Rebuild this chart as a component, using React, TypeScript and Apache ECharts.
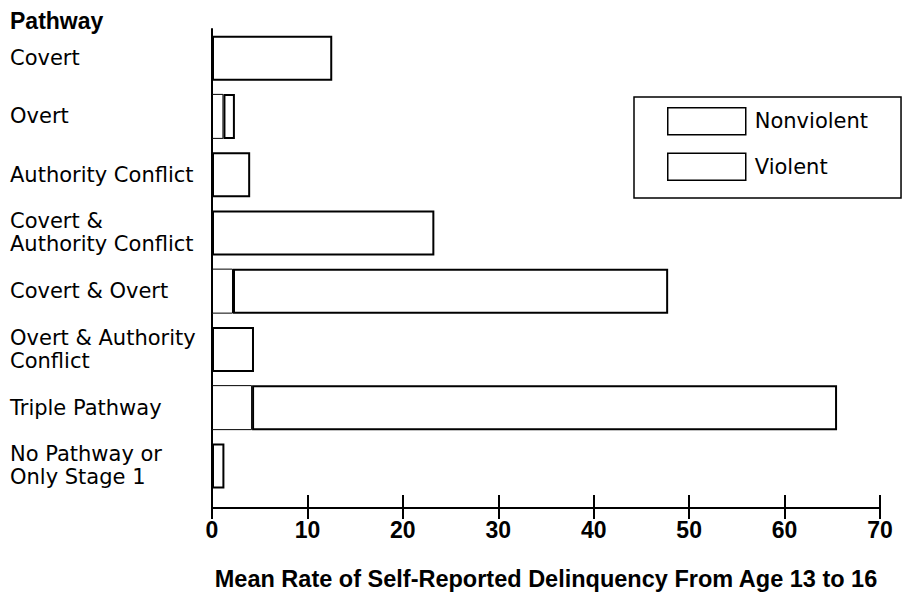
import React, { useEffect, useRef } from "react";
import * as echarts from "echarts";

const FONT = '"Liberation Sans", Arial, Helvetica, sans-serif';
const LABEL_FONT = '"DejaVu Sans", "Liberation Sans", Arial, sans-serif';

const categories = [
  "Covert",
  "Overt",
  "Authority Conflict",
  "Covert &\nAuthority Conflict",
  "Covert & Overt",
  "Overt & Authority\nConflict",
  "Triple Pathway",
  "No Pathway or\nOnly Stage 1",
];
const violent = [0, 1.2, 0, 0, 2.2, 0, 4.2, 0];
const nonviolent = [12.6, 1.2, 4.0, 23.3, 45.6, 4.4, 61.3, 1.3];
const legendNames = ["Nonviolent", "Violent"];
const axisTitle = "Mean Rate of Self-Reported Delinquency From Age 13 to 16";
const headerText = "Pathway";

export default function App() {
  const ref = useRef<HTMLDivElement>(null);
  useEffect(() => {
    if (!ref.current) return;
    const chart = echarts.init(ref.current, null, { renderer: "svg" });
    const tickStyle = { color: "#000", width: 2 };
    chart.setOption({
      animation: false,
      backgroundColor: "#fff",
      textStyle: { fontFamily: FONT, color: "#000" },
      title: {
        text: headerText,
        left: 10,
        top: 9,
        padding: 0,
        textStyle: { fontFamily: FONT, fontSize: 23, fontWeight: "bold", color: "#000" },
      },
      grid: { left: 212, right: 24, top: 29, bottom: 101, containLabel: false },
      legend: {
        data: legendNames,
        orient: "vertical",
        left: 634,
        top: 97,
        padding: [10, 33, 17, 33],
        itemWidth: 78,
        itemHeight: 27,
        itemGap: 17,
        borderColor: "#000",
        borderWidth: 1.5,
        icon: "rect",
        itemStyle: { color: "#fff", borderColor: "#000", borderWidth: 1.5 },
        textStyle: { fontFamily: LABEL_FONT, fontSize: 21, color: "#000", padding: [0, 0, 0, 4] },
      },
      xAxis: [
        {
          type: "value",
          position: "bottom",
          min: 0,
          max: 70,
          interval: 10,
          offset: 13,
          axisLine: { show: true, lineStyle: tickStyle },
          axisTick: { show: true, length: 11, lineStyle: tickStyle },
          axisLabel: { margin: 10, fontSize: 23, fontWeight: "bold", color: "#000", fontFamily: FONT },
          splitLine: { show: false },
          name: axisTitle,
          nameLocation: "middle",
          nameGap: 59,
          nameTextStyle: { fontSize: 23.5, fontWeight: "bold", color: "#000", fontFamily: FONT },
        },
        {
          type: "value",
          position: "bottom",
          min: 0,
          max: 70,
          interval: 10,
          offset: 13,
          axisLine: { show: false },
          axisTick: { show: true, inside: true, length: 13, lineStyle: tickStyle },
          axisLabel: { show: false },
          splitLine: { show: false },
        },
      ],
      yAxis: {
        type: "category",
        data: categories,
        inverse: true,
        axisLine: { show: true, lineStyle: { color: "#000", width: 2 } },
        axisTick: { show: false },
        axisLabel: {
          align: "left",
          margin: 202,
          fontSize: 21,
          lineHeight: 23,
          padding: [6, 0, 0, 0],
          color: "#000",
          fontFamily: LABEL_FONT,
        },
        splitLine: { show: false },
      },
      graphic: [
        {
          type: "line",
          shape: { x1: 212, y1: 494, x2: 212, y2: 509 },
          style: { stroke: "#000", lineWidth: 2 },
        },
      ],
      series: [
        {
          name: "Violent",
          type: "bar",
          stack: "total",
          xAxisIndex: 0,
          barWidth: 45,
          data: violent,
          itemStyle: { color: "#fff", borderColor: "#000", borderWidth: 1 },
        },
        {
          name: "Nonviolent",
          type: "bar",
          stack: "total",
          xAxisIndex: 0,
          barWidth: 45,
          data: nonviolent,
          itemStyle: { color: "#fff", borderColor: "#000", borderWidth: 2 },
        },
      ],
    });
    return () => chart.dispose();
  }, []);
  return (
    <div
      ref={ref}
      style={{ position: "fixed", left: 0, top: 0, width: 904, height: 596, background: "#fff" }}
    />
  );
}
